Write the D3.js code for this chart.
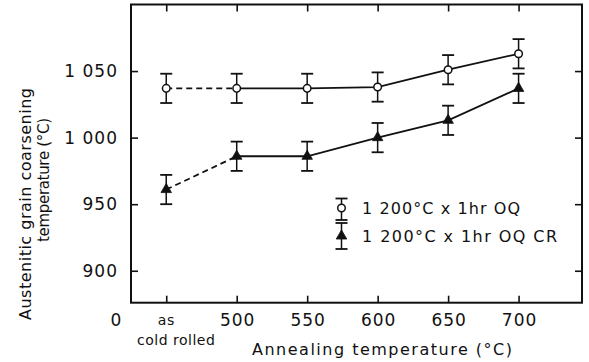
<!DOCTYPE html>
<html>
<head>
<meta charset="utf-8">
<script src="https://cdn.jsdelivr.net/npm/d3@7"></script>
<style>
  html, body { margin: 0; padding: 0; background: #fff; }
  svg { display: block; }
  text { font-family: "DejaVu Sans", sans-serif; fill: #111; }
</style>
</head>
<body>
<svg id="chart" width="589" height="362"></svg>
<script>
// ---- data ----
const categories = ["as cold rolled", "500", "550", "600", "650", "700"];
const oqValues = [1037, 1037, 1037, 1038, 1051, 1063];
const oqErrors = [11, 11, 11, 11, 11, 11];
const crValues = [961, 986, 986, 1000, 1013, 1037];
const crErrors = [11, 11, 11, 11, 11, 11];
const yTickValues = [900, 950, 1000, 1050];
const yTickLabels = ["900", "950", "1 000", "1 050"];
const legendLabels = ["1 200°C x 1hr OQ", "1 200°C x 1hr OQ CR"];

(function () {
// ---- layout ----
const svg = d3.select("#chart");
const pL = 131, pR = 582, pT = 4.5, pB = 302.7;
const x = d3.scaleLinear().domain([-0.5, 5.9]).range([pL, pR]);
const y = d3.scaleLinear().domain([876, 1100]).range([pB, pT]);
const ink = "#111";

// frame
svg.append("rect")
  .attr("x", pL).attr("y", pT)
  .attr("width", pR - pL).attr("height", pB - pT)
  .attr("fill", "none").attr("stroke", ink).attr("stroke-width", 2);

const idx = d3.range(categories.length);

// inward ticks via axes
const tickLen = 7;
const gB = svg.append("g").attr("transform", `translate(0,${pB})`)
  .call(d3.axisTop(x).tickValues(idx).tickSize(tickLen).tickFormat(""));
const gT = svg.append("g").attr("transform", `translate(0,${pT})`)
  .call(d3.axisBottom(x).tickValues(idx).tickSize(tickLen).tickFormat(""));
const gL = svg.append("g").attr("transform", `translate(${pL},0)`)
  .call(d3.axisRight(y).tickValues(yTickValues).tickSize(tickLen).tickFormat(""));
const gR = svg.append("g").attr("transform", `translate(${pR},0)`)
  .call(d3.axisLeft(y).tickValues(yTickValues).tickSize(tickLen).tickFormat(""));
[gB, gT, gL, gR].forEach(g => {
  g.select(".domain").remove();
  g.selectAll("line").attr("stroke", ink).attr("stroke-width", 1.6);
});

// y tick labels
svg.append("g").selectAll("text").data(yTickValues).join("text")
  .attr("x", 118).attr("y", d => y(d)).attr("dy", "0.36em")
  .attr("text-anchor", "end")
  .style("font-size", "17px").style("letter-spacing", "1px")
  .text((d, i) => yTickLabels[i]);

// x tick labels
svg.append("g").selectAll("text").data(idx.slice(1)).join("text")
  .attr("x", d => x(d) + 1).attr("y", 326)
  .attr("text-anchor", "middle")
  .style("font-size", "17px").style("letter-spacing", "1px")
  .text(d => categories[d]);
svg.append("text").attr("x", x(0)).attr("y", 325).attr("text-anchor", "middle")
  .style("font-size", "14px").style("letter-spacing", "0.5px").text("as");
svg.append("text").attr("x", x(0) + 10).attr("y", 345).attr("text-anchor", "middle")
  .style("font-size", "14px").style("letter-spacing", "0.5px").text("cold rolled");
svg.append("text").attr("x", 116).attr("y", 326).attr("text-anchor", "middle")
  .style("font-size", "17px").text("0");

// axis titles
svg.append("text").attr("x", 382).attr("y", 355).attr("text-anchor", "middle")
  .attr("textLength", 260).attr("lengthAdjust", "spacing")
  .style("font-size", "16px").text("Annealing temperature (°C)");
svg.append("text").attr("transform", "translate(31,204) rotate(-90)")
  .attr("text-anchor", "middle")
  .attr("textLength", 232).attr("lengthAdjust", "spacing")
  .style("font-size", "16px").text("Austenitic grain coarsening");
svg.append("text").attr("transform", "translate(49,180) rotate(-90)")
  .attr("text-anchor", "middle")
  .attr("textLength", 124).attr("lengthAdjust", "spacing")
  .style("font-size", "15px").text("temperature (°C)");

// series lines
const line = d3.line().x(d => x(d.i)).y(d => y(d.v));
function drawSeries(values) {
  const pts = values.map((v, i) => ({ i, v }));
  svg.append("path").attr("d", line(pts.slice(0, 2)))
    .attr("fill", "none").attr("stroke", ink).attr("stroke-width", 1.8)
    .attr("stroke-dasharray", "6,4");
  svg.append("path").attr("d", line(pts.slice(1)))
    .attr("fill", "none").attr("stroke", ink).attr("stroke-width", 1.8);
}
drawSeries(oqValues);
drawSeries(crValues);

// error bars
const capW = 6;
function errorBar(g, cx, yTop, yBot) {
  g.append("line").attr("x1", cx).attr("x2", cx).attr("y1", yTop).attr("y2", yBot)
    .attr("stroke", ink).attr("stroke-width", 1.5);
  g.append("line").attr("x1", cx - capW).attr("x2", cx + capW).attr("y1", yTop).attr("y2", yTop)
    .attr("stroke", ink).attr("stroke-width", 1.8);
  g.append("line").attr("x1", cx - capW).attr("x2", cx + capW).attr("y1", yBot).attr("y2", yBot)
    .attr("stroke", ink).attr("stroke-width", 1.8);
}
const eg = svg.append("g");
oqValues.forEach((v, i) => errorBar(eg, x(i), y(v + oqErrors[i]), y(v - oqErrors[i])));
crValues.forEach((v, i) => errorBar(eg, x(i), y(v + crErrors[i]), y(v - crErrors[i])));

// markers
const tri = d3.symbol().type(d3.symbolTriangle).size(48);
function circleMark(g, cx, cy) {
  g.append("circle").attr("cx", cx).attr("cy", cy).attr("r", 3.8)
    .attr("fill", "#fff").attr("stroke", ink).attr("stroke-width", 1.5);
}
function triMark(g, cx, cy) {
  g.append("path").attr("d", tri).attr("transform", `translate(${cx},${cy})`)
    .attr("fill", ink).attr("stroke", ink).attr("stroke-width", 0.8);
}
const mg = svg.append("g");
oqValues.forEach((v, i) => circleMark(mg, x(i), y(v)));
crValues.forEach((v, i) => triMark(mg, x(i), y(v)));

// legend
const lg = svg.append("g");
const lx = 341.5;
errorBar(lg, lx, 198.5, 220);
circleMark(lg, lx, 208);
errorBar(lg, lx, 223, 249);
triMark(lg, lx, 236);
lg.append("text").attr("x", 362).attr("y", 214)
  .attr("textLength", 158).attr("lengthAdjust", "spacing")
  .style("font-size", "16px").text(legendLabels[0]);
lg.append("text").attr("x", 362).attr("y", 242)
  .attr("textLength", 195).attr("lengthAdjust", "spacing")
  .style("font-size", "16px").text(legendLabels[1]);
})();
</script>
</body>
</html>
